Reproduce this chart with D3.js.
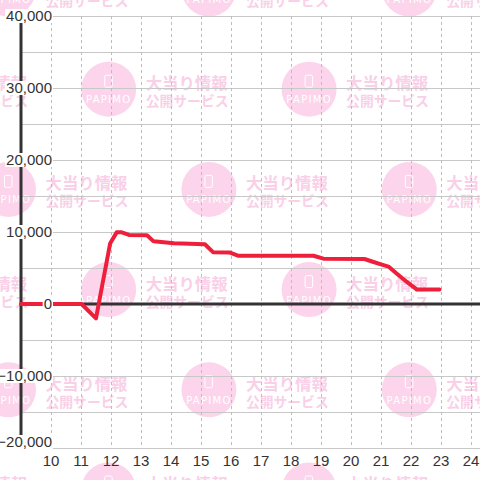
<!DOCTYPE html>
<html>
<head>
<meta charset="utf-8">
<script src="https://cdn.jsdelivr.net/npm/d3@7"></script>
<style>
html,body{margin:0;padding:0;background:#fff;}
svg{display:block;}
</style>
</head>
<body>
<svg id="chart" width="480" height="480"></svg>
<script>
// Data
const times  = [9, 11.02, 11.5, 11.97, 12.19, 12.36, 12.6, 13.2, 13.42, 14.1, 15.13, 15.4, 15.97, 16.25, 18.75, 19.08, 20.45, 20.7, 21.0, 21.25, 21.5, 21.85, 22.2, 22.95];
const values = [0, 0, -2000, 8400, 9950, 9950, 9600, 9550, 8700, 8450, 8300, 7200, 7150, 6700, 6700, 6300, 6250, 5900, 5500, 5200, 4300, 3100, 2000, 2000];
const xTicks = [10, 11, 12, 13, 14, 15, 16, 17, 18, 19, 20, 21, 22, 23, 24];
const yLabelTicks = [-20000, -10000, 0, 10000, 20000, 30000, 40000];
const yGridTicks = [-20000, -15000, -10000, -5000, 0, 5000, 10000, 15000, 20000, 25000, 30000, 35000, 40000];
const wmLine1 = "大当り情報";
const wmLine2 = "公開サービス";
const wmBrand = "PAPIMO";

const W = 480, H = 480;
const svg = d3.select("#chart");

const x = d3.scaleLinear().domain([9, 24.3]).range([21, 480]);
const y = d3.scaleLinear().domain([-20000, 40000]).range([448, 16]);

// Watermark layer (tiled)
const wm = svg.append("g").attr("class", "watermark");
const pinkCircle = "#fcd5ec", pinkText = "#f9d0e8";
for (let r = 0; r < 6; r++) {
  const cy = -11 + r * 100.2;
  const off = (r % 2 === 1) ? 100.2 : 0;
  for (let k = -1; k < 3; k++) {
    const cx = 8.5 + off + k * 200.4;
    if (cx < -140 || cx > 520) continue;
    const g = wm.append("g").attr("transform", `translate(${cx},${cy})`);
    g.append("circle").attr("r", 27.5).attr("fill", pinkCircle);
    g.append("rect").attr("x", -4).attr("y", -14).attr("width", 7.5).attr("height", 12)
      .attr("rx", 1.5).attr("fill", "none").attr("stroke", "#fff").attr("stroke-width", 1);
    g.append("text").attr("x", 0).attr("y", 14).attr("text-anchor", "middle")
      .attr("font-family", "DejaVu Sans, sans-serif").attr("font-size", 10)
      .attr("letter-spacing", 1.3).attr("fill", "#fff").text(wmBrand);
    g.append("text").attr("x", 37).attr("y", 0).attr("font-family", "Noto Sans CJK JP, sans-serif")
      .attr("font-weight", "bold").attr("font-size", 16.4).attr("fill", pinkText).text(wmLine1);
    g.append("text").attr("x", 37).attr("y", 17).attr("font-family", "Noto Sans CJK JP, sans-serif")
      .attr("font-weight", "bold").attr("font-size", 13.8).attr("fill", pinkText).text(wmLine2);
  }
}

// Horizontal gridlines
svg.append("g").selectAll("line").data(yGridTicks).join("line")
  .attr("x1", x(9)).attr("x2", W)
  .attr("y1", d => Math.round(y(d)) + 0.5).attr("y2", d => Math.round(y(d)) + 0.5)
  .attr("stroke", "#c8c8c8").attr("stroke-width", 1);

// Vertical dashed gridlines
svg.append("g").selectAll("line").data(xTicks).join("line")
  .attr("x1", d => Math.round(x(d)) + 0.5).attr("x2", d => Math.round(x(d)) + 0.5)
  .attr("y1", y(40000)).attr("y2", y(-20000))
  .attr("stroke", "#bdbdbd").attr("stroke-width", 1).attr("stroke-dasharray", "3,3");

// Axis lines
svg.append("line").attr("x1", x(9)).attr("x2", x(9)).attr("y1", y(40000)).attr("y2", y(-20000))
  .attr("stroke", "#333").attr("stroke-width", 3);
svg.append("line").attr("x1", x(9)).attr("x2", W).attr("y1", y(0)).attr("y2", y(0))
  .attr("stroke", "#333").attr("stroke-width", 3);

// Data line
const pts = times.map((t, i) => [t, values[i]]);
svg.append("path").datum(pts)
  .attr("d", d3.line().x(d => x(d[0])).y(d => y(d[1])))
  .attr("fill", "none").attr("stroke", "#ee1f3b").attr("stroke-width", 4)
  .attr("stroke-linejoin", "round").attr("stroke-linecap", "round");

// Y labels with white boxes
const fmt = d3.format(",");
const yl = svg.append("g");
yLabelTicks.forEach(v => {
  const cy = Math.min(y(v), 448 - 6);
  const t = yl.append("text").attr("x", 52).attr("y", cy).attr("dy", "0.35em")
    .attr("text-anchor", "end").attr("font-family", "Liberation Sans, Arial, sans-serif")
    .attr("font-size", 15).attr("fill", "#333").text(fmt(v));
  const bb = t.node().getBBox();
  yl.insert("rect", "text").attr("x", bb.x - 1).attr("y", cy - 7).attr("width", bb.width + 2)
    .attr("height", 14).attr("fill", "#fff");
});

// X labels
svg.append("g").selectAll("text").data(xTicks).join("text")
  .attr("x", d => x(d)).attr("y", 461).attr("dy", "0.35em").attr("text-anchor", "middle")
  .attr("font-family", "Liberation Sans, Arial, sans-serif").attr("font-size", 15)
  .attr("fill", "#333").text(d => d);
</script>
</body>
</html>
